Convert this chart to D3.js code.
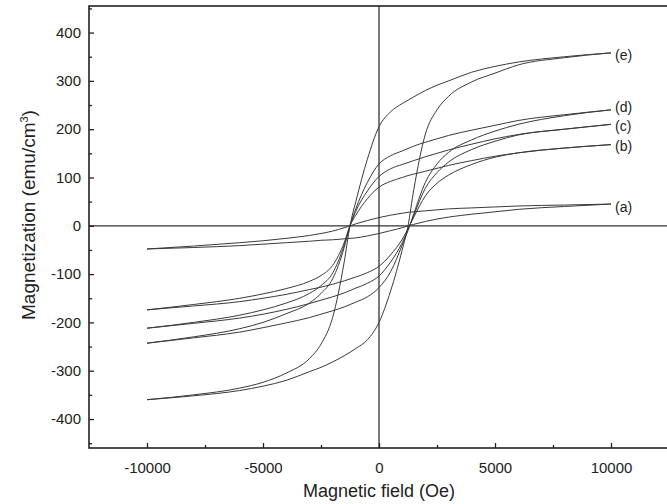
<!DOCTYPE html>
<html>
<head>
<meta charset="utf-8">
<script src="https://cdn.jsdelivr.net/npm/d3@7"></script>
<style>
  body { margin: 0; background: #fff; }
  text { font-family: "Liberation Sans", Arial, sans-serif; fill: #222; }
</style>
</head>
<body>
<div id="chart"></div>
<script>
// applied field grid (Oe), shared by every branch
var field = [-10000, -8000, -6000, -5000, -4000, -3000, -2500, -2000, -1500, -1250, -1000, -500,
             0, 500, 1000, 1250, 1500, 2000, 2500, 3000, 4000, 5000, 6000, 8000, 10000];

// magnetization (emu/cm3), descending branch (from +10 kOe) and ascending branch (from -10 kOe)
var aDesc = [-48, -42, -35, -31, -26, -20, -16, -11, -4, 0, 4, 11, 17, 22, 26, 28, 29, 31, 33, 35, 37, 39, 41, 43, 45];
var aAsc  = [-48, -45, -41, -38, -35, -32, -30, -29, -27, -26, -25, -21, -16, -10, -4, 0, 3, 9, 14, 18, 24, 29, 34, 40, 45];
var bDesc = [-174, -163, -150, -141, -130, -115, -103, -82, -35, 0, 22, 56, 80, 92, 100, 104, 107, 113, 119, 125, 135, 144, 151, 161, 168];
var bAsc  = [-174, -166, -157, -150, -142, -132, -127, -121, -114, -110, -106, -97, -84, -60, -28, -6, 18, 62, 88, 105, 127, 142, 151, 161, 168];
var cDesc = [-212, -200, -185, -174, -160, -140, -124, -98, -40, 0, 30, 72, 102, 118, 127, 131, 135, 143, 150, 157, 169, 180, 189, 200, 210];
var cAsc  = [-212, -202, -191, -183, -173, -161, -154, -147, -139, -134, -129, -119, -104, -75, -35, -8, 22, 78, 110, 132, 158, 175, 188, 200, 210];
var dDesc = [-243, -230, -213, -200, -182, -160, -140, -110, -45, 0, 35, 90, 128, 145, 155, 160, 165, 173, 180, 187, 198, 208, 218, 230, 240];
var dAsc  = [-243, -232, -220, -211, -201, -190, -183, -176, -168, -163, -158, -147, -128, -95, -40, -10, 25, 90, 128, 152, 178, 196, 210, 228, 240];
var eDesc = [-360, -350, -336, -324, -305, -275, -245, -190, -75, 0, 50, 138, 205, 236, 253, 260, 267, 280, 291, 300, 318, 330, 339, 350, 358];
var eAsc  = [-360, -352, -341, -332, -320, -302, -293, -282, -269, -262, -254, -236, -200, -135, -50, 0, 75, 190, 240, 268, 298, 316, 333, 348, 358];

var sampleNames = ["(a)", "(b)", "(c)", "(d)", "(e)"];
var branches = [[aDesc, aAsc], [bDesc, bAsc], [cDesc, cAsc], [dDesc, dAsc], [eDesc, eAsc]];

var xTicks = [-10000, -5000, 0, 5000, 10000];
var xMinorTicks = [-7500, -2500, 2500, 7500];
var yTicks = [-400, -300, -200, -100, 0, 100, 200, 300, 400];
var yMinorTicks = [-450, -350, -250, -150, -50, 50, 150, 250, 350, 450];

var margin = {top: 6, right: 0, bottom: 56, left: 89};
var width = 580, height = 442;
// vertical nudge of the end labels so (c) and (d) don't collide
var labelShift = [8, 6, 7, 2, 7];

var svg = d3.select("#chart")
    .append("svg")
    .attr("width", 667)
    .attr("height", 504);

var g = svg.append("g")
    .attr("transform", "translate(" + margin.left + "," + margin.top + ")");

var x = d3.scaleLinear().domain([-12500, 12500]).range([0, width]);
var y = d3.scaleLinear().domain([-460, 455]).range([height, 0]);

// zero lines
g.append("line")
    .attr("x1", 0).attr("x2", width)
    .attr("y1", y(0)).attr("y2", y(0))
    .style("stroke", "#333").style("stroke-width", 1.3);
g.append("line")
    .attr("x1", x(0)).attr("x2", x(0))
    .attr("y1", 0).attr("y2", height)
    .style("stroke", "#333").style("stroke-width", 1.3);

// loops
var line = d3.line()
    .x(function(d) { return x(d[0]); })
    .y(function(d) { return y(d[1]); })
    .curve(d3.curveMonotoneX);

branches.forEach(function(pair, i) {
    pair.forEach(function(vals) {
        g.append("path")
            .datum(field.map(function(h, j) { return [h, vals[j]]; }))
            .attr("d", line)
            .style("fill", "none")
            .style("stroke", "#3a3a3a")
            .style("stroke-width", 1);
    });
    var last = pair[0][pair[0].length - 1];
    g.append("text")
        .attr("x", x(field[field.length - 1]) + 4)
        .attr("y", y(last) + labelShift[i])
        .style("font-size", "14px")
        .text(sampleNames[i]);
});

// axes with inward ticks
var xAxis = d3.axisBottom(x).tickValues(xTicks).tickSize(-5).tickSizeOuter(0).tickPadding(14)
    .tickFormat(function(d) { return String(d); });
var xMinor = d3.axisBottom(x).tickValues(xMinorTicks).tickSize(-3).tickSizeOuter(0).tickFormat("");
var yAxis = d3.axisLeft(y).tickValues(yTicks).tickSize(-5).tickSizeOuter(0).tickPadding(8)
    .tickFormat(function(d) { return String(d); });
var yMinor = d3.axisLeft(y).tickValues(yMinorTicks).tickSize(-3).tickSizeOuter(0).tickFormat("");

[[xAxis, true], [xMinor, true], [yAxis, false], [yMinor, false]].forEach(function(a) {
    var ax = g.append("g")
        .attr("transform", a[1] ? "translate(0," + height + ")" : null)
        .call(a[0]);
    ax.select(".domain").remove();
    ax.selectAll("line").style("stroke", "#222").style("stroke-width", 1.3);
    ax.selectAll("text")
        .style("font-family", "\"Liberation Sans\", Arial, sans-serif")
        .style("font-size", "15px")
        .style("fill", "#222");
});

// frame (right edge falls outside the picture)
g.append("rect")
    .attr("width", width).attr("height", height)
    .style("fill", "none")
    .style("stroke", "#222")
    .style("stroke-width", 1.6);

// axis titles
svg.append("text")
    .attr("x", margin.left + x(0))
    .attr("y", 497)
    .attr("text-anchor", "middle")
    .style("font-size", "18px")
    .text("Magnetic field (Oe)");

var yTitle = svg.append("text")
    .attr("transform", "translate(35," + 215 + ") rotate(-90)")
    .attr("text-anchor", "middle")
    .style("font-size", "19px");
yTitle.append("tspan").text("Magnetization  (emu/cm");
yTitle.append("tspan").attr("dy", -7).style("font-size", "11px").text("3");
yTitle.append("tspan").attr("dy", 7).text(")");
</script>
</body>
</html>
